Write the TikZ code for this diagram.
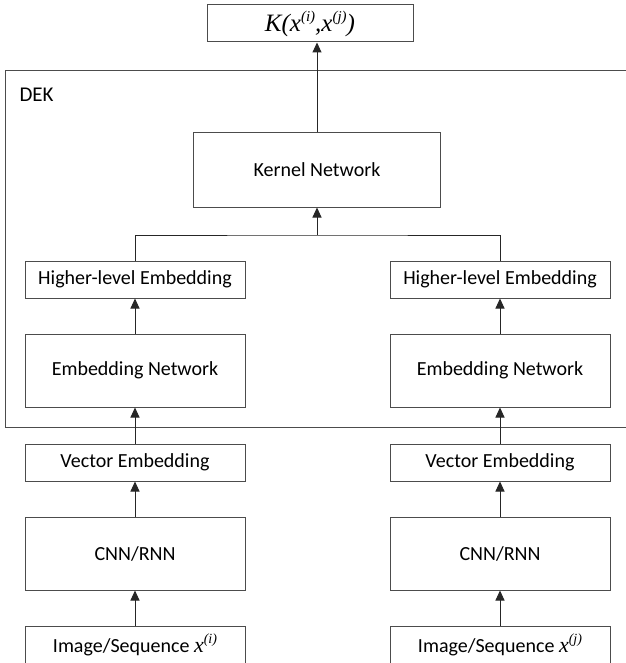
\documentclass[tikz,border=0pt]{standalone}
\usepackage{fontspec}
\setmainfont{Carlito}
\newfontfamily\mathserif{Liberation Serif}
\usetikzlibrary{arrows.meta}
\tikzset{
  box/.style={draw=black!70, line width=1pt, minimum width=220pt, inner sep=0pt, font=\fontsize{20}{23}\selectfont},
  thin box/.style={box, minimum height=37pt},
  tall box/.style={box, minimum height=73pt},
  link/.style={draw=black!85, line width=1pt},
  arrow/.style={link, -{Triangle[width=9pt,length=10pt]}}
}
\newcommand{\xvar}[1]{{\fontsize{22}{24}\selectfont\mathserif\itshape x\raisebox{0.42em}{\fontsize{14}{14}\selectfont(#1)}}}
\begin{document}
\begin{tikzpicture}[x=1pt,y=-1pt]
\useasboundingbox (0,0) rectangle (625,663);
% DEK frame
\node[draw=black!70, line width=1pt, minimum width=640pt, minimum height=357pt, anchor=north west, inner sep=0pt] (dek) at (5,70) {};
\node[anchor=west, font=\fontsize{21}{24}\selectfont] (deklabel) at (16,95) {DEK};
% top output
\node[draw=black!70, line width=1pt, minimum width=206pt, minimum height=37pt, inner sep=0pt] (k) at (310,23.5)
  {\fontsize{25}{28}\selectfont\mathserif\itshape K(x\raisebox{0.4em}{\fontsize{15}{15}\selectfont(i)},x\raisebox{0.4em}{\fontsize{15}{15}\selectfont(j)})};
\node[box, minimum width=247pt, minimum height=74pt] (kn) at (317,170) {Kernel Network};
% left column
\node[thin box] (hl) at (135,279.5) {Higher-level Embedding};
\node[tall box] (el) at (135,370.5) {Embedding Network};
\node[thin box] (vl) at (135,462.5) {Vector Embedding};
\node[tall box] (cl) at (135,553.5) {CNN/RNN};
\node[thin box] (il) at (135,645) {Image/Sequence \xvar{i}};
% right column
\node[thin box] (hr) at (500,279.5) {Higher-level Embedding};
\node[tall box] (er) at (500,370.5) {Embedding Network};
\node[thin box] (vr) at (500,462.5) {Vector Embedding};
\node[tall box] (cr) at (500,553.5) {CNN/RNN};
\node[thin box] (ir) at (500,645) {Image/Sequence \xvar{j}};
% connectors
\coordinate (j) at (317,235);
\foreach \s in {l,r}{
  \draw[arrow] (i\s) -- (c\s);
  \draw[arrow] (c\s) -- (v\s);
  \draw[arrow] (v\s) -- (e\s);
  \draw[arrow] (e\s) -- (h\s);
}
\draw[link] (hl.north) |- (j) -| (hr.north);
\draw[arrow] (j) -- (kn.south);
\draw[arrow] (kn.north) -- (kn.north |- k.south);
\end{tikzpicture}
\end{document}
